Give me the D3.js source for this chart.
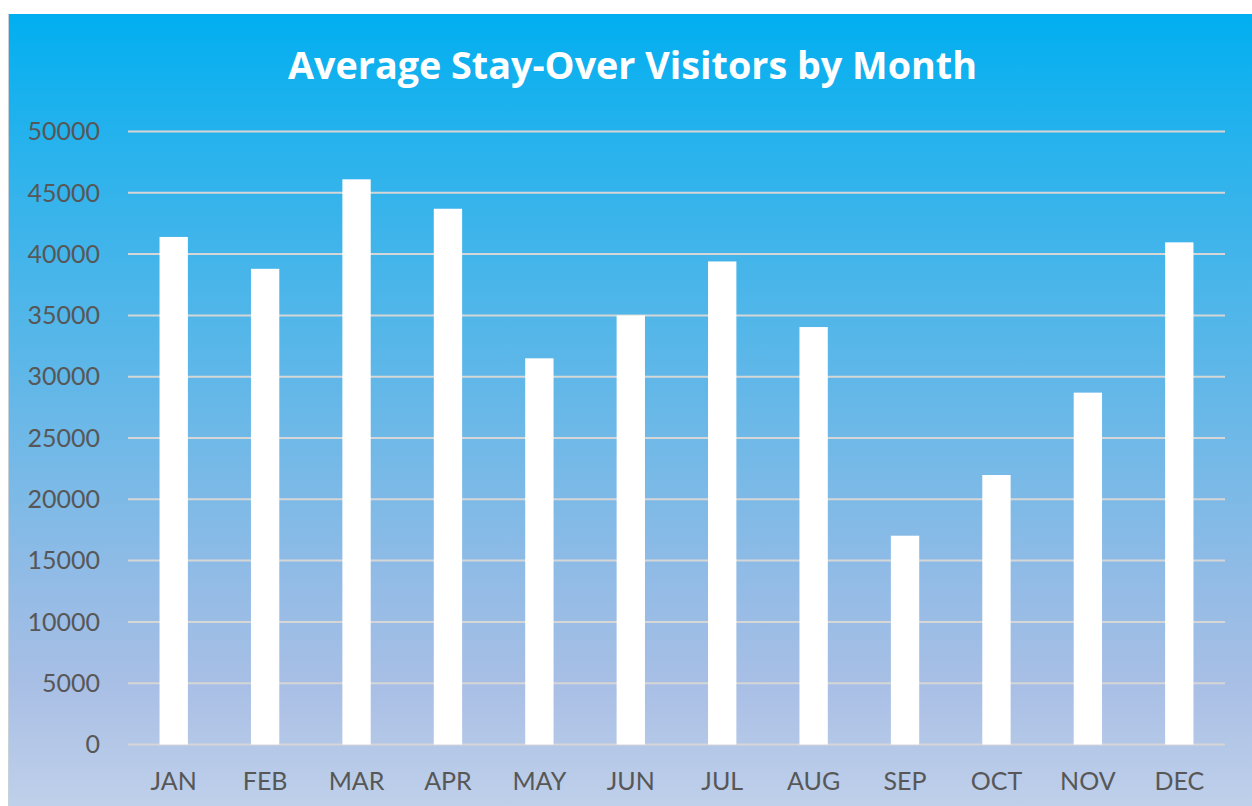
<!DOCTYPE html>
<html><head><meta charset="utf-8">
<script src="https://cdn.jsdelivr.net/npm/d3@7"></script>
<style>html,body{margin:0;padding:0;background:#fff;}svg{display:block;}</style>
</head><body>
<svg id="chart" width="1252" height="806"></svg>
<script>
const months = ["JAN","FEB","MAR","APR","MAY","JUN","JUL","AUG","SEP","OCT","NOV","DEC"];
const visitors = [41400,38800,46100,43700,31500,35000,39400,34050,17030,21980,28700,40960];
const yTicks = [0,5000,10000,15000,20000,25000,30000,35000,40000,45000,50000];
const title = "Average Stay-Over Visitors by Month";

const svg = d3.select("#chart");
const W = 1252, H = 806;
const defs = svg.append("defs");
const grad = defs.append("linearGradient").attr("id","bg").attr("x1",0).attr("y1",0).attr("x2",0).attr("y2",1);
[[0,"#01aff0"],[0.2,"#2fb3ec"],[0.45,"#5eb7e8"],[0.7,"#8fbbe6"],[0.85,"#a9bfe5"],[1,"#bfd0ea"]]
  .forEach(([o,c])=>grad.append("stop").attr("offset",o).attr("stop-color",c));

svg.append("rect").attr("x",8).attr("y",14).attr("width",W-8).attr("height",H-14).attr("fill","url(#bg)");
svg.append("line").attr("x1",8.5).attr("x2",8.5).attr("y1",14).attr("y2",H).attr("stroke","#c8d0d8").attr("stroke-width",1);

const m = {left:128, right:1225, top:131.5, bottom:744.5};
const x = d3.scaleBand().domain(months).range([m.left,m.right]).paddingInner(0.69).paddingOuter(0.345);
const y = d3.scaleLinear().domain([0,50000]).range([m.bottom,m.top]);

// gridlines
svg.append("g").selectAll("line").data(yTicks).join("line")
  .attr("x1",m.left).attr("x2",m.right)
  .attr("y1",d=>y(d)).attr("y2",d=>y(d))
  .attr("stroke","#d6d6d6").attr("stroke-width",2);

// y axis labels
const yAxis = d3.axisLeft(y).tickValues(yTicks).tickSize(0).tickPadding(0).tickFormat(d3.format("d"));
const gy = svg.append("g").attr("transform",`translate(100,0)`).call(yAxis);
gy.select(".domain").remove();
gy.selectAll("text").attr("fill","#575757").style("font-family","Lato, 'Open Sans', sans-serif").style("font-size","25px").attr("dy","0.33em");

// bars
svg.append("g").selectAll("rect").data(months.map((mm,i)=>({m:mm,v:visitors[i]}))).join("rect")
  .attr("x",d=>x(d.m)).attr("width",x.bandwidth())
  .attr("y",d=>y(d.v)).attr("height",d=>y(0)-y(d.v))
  .attr("fill","#ffffff");

// x axis labels
const xAxis = d3.axisBottom(x).tickSize(0).tickPadding(0);
const gx = svg.append("g").attr("transform",`translate(0,${m.bottom})`).call(xAxis);
gx.select(".domain").remove();
gx.selectAll("text").attr("fill","#575757").attr("y",45.5).attr("dy",0)
  .style("font-family","Lato, 'Open Sans', sans-serif").style("font-size","25px");

// title
const t = svg.append("text").attr("x",(288+977)/2).attr("y",79).attr("text-anchor","middle")
  .attr("fill","#ffffff").style("font-family","'Open Sans', Lato, sans-serif").style("font-weight","700")
  .style("font-size","34px").text(title);
const tw = t.node().getComputedTextLength();
t.style("font-size", (34*689/tw).toFixed(2)+"px");
</script>
</body></html>
